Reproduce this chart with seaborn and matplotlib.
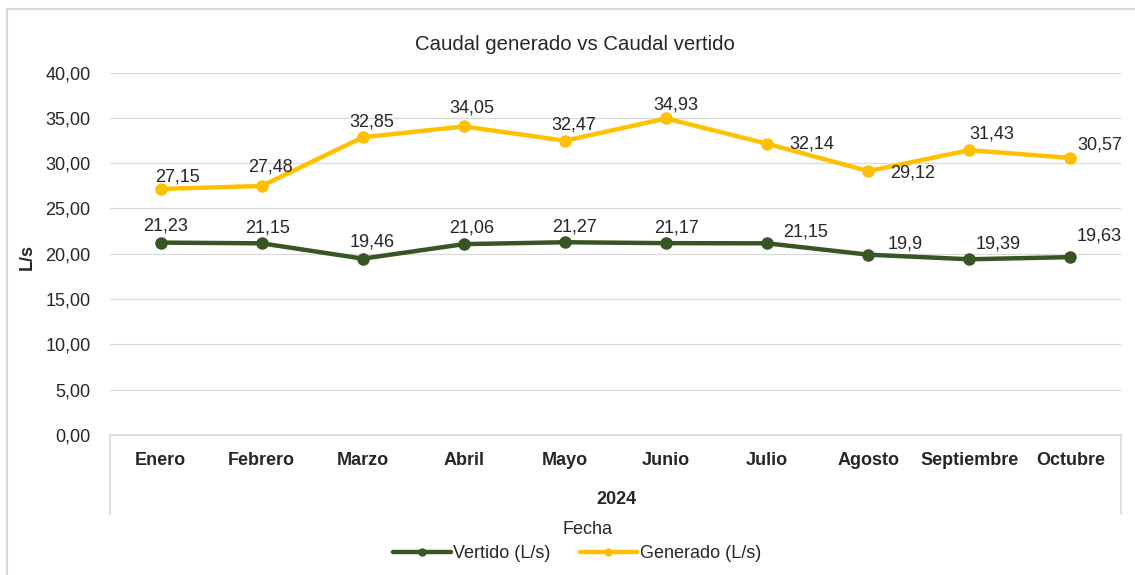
import matplotlib
matplotlib.use("Agg")
import matplotlib.pyplot as plt
import seaborn as sns
import pandas as pd
from matplotlib.lines import Line2D

meses = ["Enero", "Febrero", "Marzo", "Abril", "Mayo", "Junio", "Julio",
         "Agosto", "Septiembre", "Octubre"]
generado = [27.15, 27.48, 32.85, 34.05, 32.47, 34.93, 32.14, 29.12, 31.43, 30.57]
vertido = [21.23, 21.15, 19.46, 21.06, 21.27, 21.17, 21.15, 19.9, 19.39, 19.63]
yticks = [0, 5, 10, 15, 20, 25, 30, 35, 40]
titulo = "Caudal generado vs Caudal vertido"
anio = "2024"

sns.set_theme(style="white")
FONT = ["Liberation Sans", "DejaVu Sans"]
plt.rcParams["font.family"] = FONT

C_GEN = "#FFC000"
C_VER = "#375623"
TXT = "#262626"

W, H = 1135, 575
fig = plt.figure(figsize=(W / 100, H / 100), dpi=100)
fig.patch.set_facecolor("white")
L, R, T, B = 110, 1121, 72.5, 435
ax = fig.add_axes([L / W, 1 - B / H, (R - L) / W, (B - T) / H])

df = pd.DataFrame({
    "x": list(range(len(meses))) * 2,
    "valor": vertido + generado,
    "serie": ["Vertido (L/s)"] * len(meses) + ["Generado (L/s)"] * len(meses),
})
sns.lineplot(data=df, x="x", y="valor", hue="serie",
             palette={"Vertido (L/s)": C_VER, "Generado (L/s)": C_GEN},
             marker="o", markersize=9, markeredgewidth=0, linewidth=3.2,
             ax=ax, legend=False)

ax.set_xlim(-0.5, len(meses) - 0.5)
ax.set_ylim(0, 40)
ax.set_yticks(yticks)
ax.set_yticklabels([f"{v:.2f}".replace(".", ",") for v in yticks],
                   fontsize=13, color=TXT)
ax.set_xticks(range(len(meses)))
ax.set_xticklabels(meses, fontsize=13, fontweight="bold", color=TXT)
ax.tick_params(axis="y", length=0, pad=14)
ax.tick_params(axis="x", length=0, pad=12)
ax.set_xlabel("")
ax.set_ylabel("")
ax.grid(axis="y", color="#d9d9d9", linewidth=0.9)
ax.grid(axis="x", visible=False)
for s in ["top", "right", "left"]:
    ax.spines[s].set_visible(False)
ax.spines["bottom"].set_color("#d9d9d9")
ax.spines["bottom"].set_linewidth(1.2)

# category axis box lines
ext = (514 - B) / (B - T)
for xa in (0, 1):
    ax.add_line(Line2D([xa, xa], [0, -ext], transform=ax.transAxes,
                       color="#d9d9d9", lw=1.2, clip_on=False))

# data labels (offsets in pixels)
off_gen = [(17, -12), (9, -19), (9, -15), (8, -18), (9, -16), (10, -13),
           (45, 0), (44, 2), (22, -16), (29, -13)]
off_ver = [(5, -17), (6, -15), (9, -17), (8, -16), (10, -15), (10, -15),
           (38, -11), (37, -11), (29, -15), (29, -21)]
for serie, offs in ((generado, off_gen), (vertido, off_ver)):
    for i, (v, (dx, dy)) in enumerate(zip(serie, offs)):
        ax.annotate(f"{v:g}".replace(".", ","), (i, v),
                    xytext=(dx * 0.72, -dy * 0.72), textcoords="offset points",
                    ha="center", va="center", fontsize=13, color=TXT)

fig.text(575 / W, 1 - 45 / H, titulo, ha="center", va="center",
         fontsize=14.7, color=TXT)
fig.text(616 / W, 1 - 499 / H, anio, ha="center", va="center",
         fontsize=13, fontweight="bold", color=TXT)
fig.text(587 / W, 1 - 530 / H, "Fecha", ha="center", va="center",
         fontsize=13, color=TXT)
fig.text(27 / W, 1 - 257 / H, "L/s", ha="center", va="center", rotation=90,
         fontsize=13, fontweight="bold", color=TXT)

handles = [Line2D([], [], color=C_VER, lw=3.2, marker="o", markersize=5),
           Line2D([], [], color=C_GEN, lw=3.2, marker="o", markersize=5)]
fig.legend(handles, ["Vertido (L/s)", "Generado (L/s)"], loc="center",
           bbox_to_anchor=(577 / W, 1 - 554 / H), ncol=2, frameon=False,
           fontsize=13, handlelength=3.2, handletextpad=0.15,
           columnspacing=1.6, borderpad=0, labelcolor=TXT)

# outer border (left/top)
fig.add_artist(Line2D([7 / W, 7 / W], [0, 1 - 9 / H], transform=fig.transFigure,
                      color="#d9d9d9", lw=1.5))
fig.add_artist(Line2D([7 / W, 1], [1 - 9 / H, 1 - 9 / H],
                      transform=fig.transFigure, color="#d9d9d9", lw=1.5))

fig.savefig("out.png", dpi=100)
